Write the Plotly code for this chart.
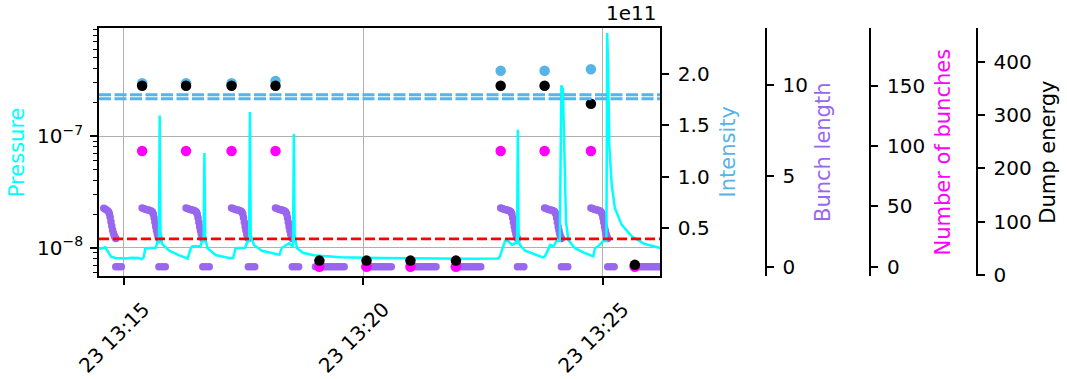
import pandas as pd
import plotly.graph_objects as go

BASE = "2023-11-23 13:14:30"

# ---------------- data (times = seconds after 13:14:30) ----------------
p_sec = [-2, 1, 7, 14, 20, 32, 40, 49, 52, 55, 57, 64, 70, 72, 74, 75, 76, 78, 87, 99,
         107, 110, 114, 116, 126, 128, 130, 131, 132, 135, 145, 162, 167, 170, 182, 185,
         187, 188, 189, 193, 203, 216, 225, 228, 235, 237.5, 241, 242, 243, 244, 247, 255,
         268, 301, 351, 401, 464, 499, 501, 507.5, 511.5, 516, 520, 522.5, 523.5, 524.5,
         526, 532.5, 541, 555, 557.5, 564, 568, 572, 576, 578, 580, 581.6, 583.8, 586.6,
         595, 607.5, 618, 620, 624, 630.4, 634.4, 635.4, 636.6, 638, 641, 645, 653.4, 666,
         682.5, 701, 704]
p_val = [1.0e-8, 9.8e-9, 1.01e-8, 8.3e-9, 8.1e-9, 8.0e-9, 8.15e-9, 8.1e-9, 7.9e-9, 8.2e-9,
         9.9e-9, 1.0e-8, 1.0e-8, 1.12e-8, 1.12e-8, 1.53e-7, 1.4e-8, 1.08e-8, 9.4e-9, 8.6e-9,
         8.1e-9, 8.0e-9, 9.9e-9, 1.03e-8, 1.03e-8, 1.15e-8, 1.15e-8, 7.05e-8, 1.2e-8, 9.9e-9,
         8.6e-9, 8.1e-9, 8.1e-9, 9.9e-9, 1.0e-8, 1.15e-8, 1.15e-8, 1.64e-7, 1.3e-8, 1.06e-8,
         9.4e-9, 8.9e-9, 8.65e-9, 1.0e-8, 1.06e-8, 1.1e-8, 1.03e-8, 1.05e-8, 1.04e-7, 1.3e-8,
         9.9e-9, 8.97e-9, 8.55e-9, 8.2e-9, 8.09e-9, 8.0e-9, 7.97e-9, 8.0e-9, 8.38e-9,
         1.15e-8, 1.15e-8, 1.06e-8, 1.1e-8, 1.1e-8, 1.14e-7, 1.2e-8, 1.06e-8, 9.4e-9,
         8.97e-9, 8.2e-9, 8.38e-9, 1.06e-8, 1.03e-8, 1.15e-8, 1.15e-8, 2.84e-7, 2.6e-7,
         5.9e-8, 1.72e-8, 1.18e-8, 9.9e-9, 8.97e-9, 8.38e-9, 9.9e-9, 1.03e-8, 1.15e-8,
         1.15e-8, 8.36e-7, 4.0e-7, 8.36e-8, 3.66e-8, 2.27e-8, 1.61e-8, 1.265e-8, 1.08e-8,
         1.0e-8, 9.9e-9]

bl_sec = [
    5, 7, 9, 11, 12, 13, 14, 15, 16, 17, 18, 19, 20, 20, 23.5, 27,
    53, 55, 57, 59, 61, 63, 65, 66, 67, 68, 69, 70, 71, 72, 73, 74, 74, 78, 82,
    108, 110, 112, 114, 116, 118, 120, 121, 122, 123, 124, 125, 126, 127, 128, 129, 129, 133, 137,
    165, 167, 169, 171, 173, 175, 177, 178, 179, 180, 181, 182, 183, 184, 185, 186, 186, 190, 194,
    220, 222, 224, 226, 228, 230, 232, 233, 234, 235, 236, 237, 238, 239, 240, 241, 241, 245, 249,
    270, 273, 276, 279, 282, 285, 288, 291, 294, 297, 300, 303, 306,
    332, 335, 338, 341, 344, 347, 350, 353, 356, 359, 362, 365,
    388, 391, 394, 397, 400, 403, 406, 409, 412, 415, 418, 421,
    444, 447, 450, 453, 456, 459, 462, 465, 468, 471, 474, 477,
    502, 504, 506, 508, 510, 512, 514, 515, 516, 517, 518, 519, 520, 521, 522, 523, 523, 527, 531,
    557, 559, 561, 563, 565, 567, 569, 570, 571, 572, 573, 574, 575, 576, 577, 578, 578, 582, 586,
    615, 617, 619, 621, 623, 625, 627, 628, 629, 630, 631, 632, 633, 634, 635, 636, 636, 640, 644,
    668, 671, 674, 677, 680, 683, 686, 689, 692, 695, 698, 701, 704]
bl_val = [
    3.22, 3.17, 3.11, 3.03, 2.92, 2.72, 2.48, 2.24, 2.02, 1.86, 1.72, 1.62, 1.56, 0, 0, 0,
    3.23, 3.2, 3.17, 3.14, 3.12, 3.09, 3.05, 3.0, 2.9, 2.7, 2.45, 2.2, 2.0, 1.8, 1.65, 1.56, 0, 0, 0,
    3.23, 3.2, 3.17, 3.14, 3.12, 3.09, 3.05, 3.0, 2.9, 2.7, 2.45, 2.2, 2.0, 1.8, 1.65, 1.56, 0, 0, 0,
    3.23, 3.2, 3.17, 3.14, 3.12, 3.09, 3.05, 3.0, 2.9, 2.7, 2.45, 2.2, 2.0, 1.8, 1.65, 1.56, 0, 0, 0,
    3.23, 3.2, 3.17, 3.14, 3.12, 3.09, 3.05, 3.0, 2.9, 2.7, 2.45, 2.2, 2.0, 1.8, 1.65, 1.56, 0, 0, 0,
    0, 0, 0, 0, 0, 0, 0, 0, 0, 0, 0, 0, 0,
    0, 0, 0, 0, 0, 0, 0, 0, 0, 0, 0, 0,
    0, 0, 0, 0, 0, 0, 0, 0, 0, 0, 0, 0,
    0, 0, 0, 0, 0, 0, 0, 0, 0, 0, 0, 0,
    3.23, 3.2, 3.17, 3.14, 3.12, 3.09, 3.05, 3.0, 2.9, 2.7, 2.45, 2.2, 2.0, 1.8, 1.65, 1.56, 0, 0, 0,
    3.23, 3.2, 3.17, 3.14, 3.12, 3.09, 3.05, 3.0, 2.9, 2.7, 2.45, 2.2, 2.0, 1.8, 1.65, 1.56, 0, 0, 0,
    3.23, 3.2, 3.17, 3.14, 3.12, 3.09, 3.05, 3.0, 2.9, 2.7, 2.45, 2.2, 2.0, 1.8, 1.65, 1.56, 0, 0, 0,
    0, 0, 0, 0, 0, 0, 0, 0, 0, 0, 0, 0, 0]

int_sec = [53, 108, 165, 220, 502, 557, 615]
int_val = [1.912e11, 1.912e11, 1.912e11, 1.934e11, 2.035e11, 2.035e11, 2.049e11]

nb_sec = [53, 108, 165, 220, 275, 334, 389, 446, 502, 557, 615, 670]
nb_val = [96, 96, 96, 96, 0, 0, 0, 0, 96, 96, 96, 0]

de_sec = [53, 108, 165, 220, 275, 334, 389, 446, 502, 557, 615, 670]
de_val = [355, 355, 355, 355, 27, 27, 27, 27, 355, 355, 321, 19]

pressure_threshold = 1.2e-8
intensity_thresholds = [1.8e11, 1.76e11]

x_range = ["2023-11-23 13:14:29", "2023-11-23 13:26:11.5"]
int_ticks = [0.5e11, 1.0e11, 1.5e11, 2.0e11]
int_ticktext = ["0.5", "1.0", "1.5", "2.0"]

# ---------------- style ----------------
CYAN = "#00ffff"
BLUE = "#56b4e9"
PURPLE = "#9966ee"
MAGENTA = "#ff00ff"
FONT = "DejaVu Sans"
GRID = "#b0b0b0"


def ts(secs):
    return pd.Timestamp(BASE) + pd.to_timedelta(secs, unit="s")


fig = go.Figure()
fig.add_trace(go.Scatter(x=ts(bl_sec), y=bl_val, mode="markers",
                         marker=dict(color=PURPLE, size=7.5, line_width=0), yaxis="y"))
fig.add_trace(go.Scatter(x=ts(p_sec), y=p_val, mode="lines",
                         line=dict(color=CYAN, width=2.5), yaxis="y2"))
fig.add_trace(go.Scatter(x=ts(int_sec), y=int_val, mode="markers",
                         marker=dict(color=BLUE, size=10.5, line_width=0), yaxis="y3"))
fig.add_trace(go.Scatter(x=ts(nb_sec), y=nb_val, mode="markers",
                         marker=dict(color=MAGENTA, size=10.5, line_width=0), yaxis="y4"))
fig.add_trace(go.Scatter(x=ts(de_sec), y=de_val, mode="markers",
                         marker=dict(color="black", size=10.5, line_width=0), yaxis="y5"))

fig.add_shape(type="line", xref="x domain", x0=0, x1=1, yref="y2",
              y0=pressure_threshold, y1=pressure_threshold,
              line=dict(color="red", width=2.8, dash="10px,4px"), layer="above")
for thr in intensity_thresholds:
    fig.add_shape(type="line", xref="x domain", x0=0, x1=1, yref="y3", y0=thr, y1=thr,
                  line=dict(color=BLUE, width=3, dash="12px,3.5px"), layer="above")

tickfont = dict(family=FONT, size=20, color="black")


def axstyle(**kw):
    d = dict(showline=True, linecolor="black", linewidth=1.6, ticks="outside", ticklen=7,
             tickwidth=1.6, tickcolor="black", tickfont=tickfont, zeroline=False,
             showgrid=False, automargin=False)
    d.update(kw)
    return d


W_PAPER = 968.0
fig.update_layout(
    width=1067, height=379,
    margin=dict(l=99, r=0, t=28, b=103, pad=0),
    paper_bgcolor="white", plot_bgcolor="white",
    showlegend=False,
    xaxis=axstyle(domain=[0, 561 / W_PAPER], type="date", range=x_range,
                  tickformat="%d %H:%M", dtick=300000, tick0="2023-11-23 13:15:00",
                  tickangle=-45, showgrid=True, gridcolor=GRID, gridwidth=1.2,
                  mirror=True, anchor="y2", ticklabelshift=20, ticklabelstandoff=5),
    yaxis=axstyle(anchor="free", position=(765.7 - 99) / W_PAPER, side="right",
                  range=[-0.51, 13.14], tickvals=[0, 5, 10], ticklabelstandoff=5),
    yaxis2=axstyle(overlaying="y", side="left", anchor="x", type="log",
                   range=[-8.253, -6.033], tickvals=[1e-8, 1e-7],
                   ticktext=["10<sup>−8</sup>", "10<sup>−7</sup>"],
                   showgrid=True, gridcolor=GRID, gridwidth=1.2, ticklabelstandoff=3,
                   minor=dict(ticks="outside", ticklen=4, tickwidth=1.2, tickcolor="black",
                              tickvals=[6e-9, 7e-9, 8e-9, 9e-9, 2e-8, 3e-8, 4e-8, 5e-8,
                                        6e-8, 7e-8, 8e-8, 9e-8, 2e-7, 3e-7, 4e-7, 5e-7,
                                        6e-7, 7e-7, 8e-7, 9e-7], showgrid=False)),
    yaxis3=axstyle(overlaying="y", side="right", anchor="x", range=[0.027e11, 2.453e11],
                   tickvals=int_ticks, ticktext=int_ticktext, ticklabelstandoff=5),
    yaxis4=axstyle(overlaying="y", side="right", anchor="free",
                   position=(870.3 - 99) / W_PAPER, range=[-7.7, 198.1],
                   tickvals=[0, 50, 100, 150], ticklabelstandoff=5),
    yaxis5=axstyle(overlaying="y", side="right", anchor="free",
                   position=(976.7 - 99) / W_PAPER, range=[-1.9, 463.2],
                   tickvals=[0, 100, 200, 300, 400], ticklabelstandoff=5),
)

titles = [("Pressure", 17.2, CYAN), ("Intensity", 727.5, BLUE), ("Bunch length", 823, PURPLE),
          ("Number of bunches", 942.5, MAGENTA), ("Dump energy", 1047.7, "black")]
for text, px, col in titles:
    fig.add_annotation(text=text, xref="paper", yref="paper", x=(px - 99) / W_PAPER, y=0.5,
                       xanchor="center", yanchor="middle", textangle=-90, showarrow=False,
                       font=dict(family=FONT, size=21, color=col))
fig.add_annotation(text="1e11", xref="paper", yref="paper", x=(658 - 99) / W_PAPER, y=1.0,
                   xanchor="right", yanchor="bottom", yshift=1, showarrow=False,
                   font=dict(family=FONT, size=20, color="black"))

fig.write_html("out.html")
